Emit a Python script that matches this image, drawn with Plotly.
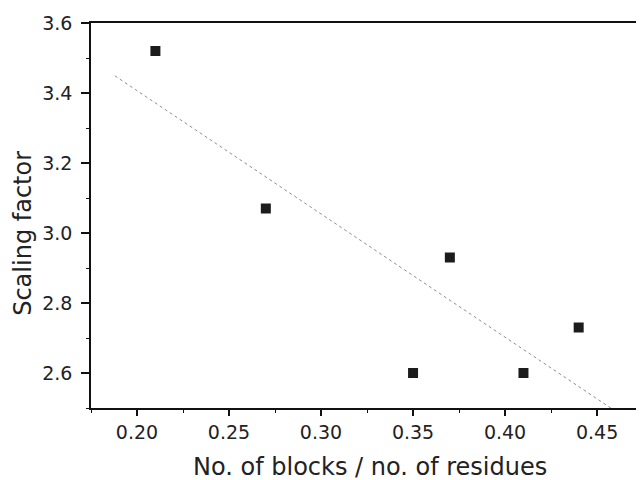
import plotly.graph_objects as go

# Data
x_vals = [0.21, 0.27, 0.35, 0.37, 0.41, 0.44]
y_vals = [3.52, 3.07, 2.60, 2.93, 2.60, 2.73]

# Linear fit line endpoints
fit_x = [0.188, 0.458]
fit_y = [3.449, 2.498]

x_ticks = [0.20, 0.25, 0.30, 0.35, 0.40, 0.45]
x_ticklabels = ["0.20", "0.25", "0.30", "0.35", "0.40", "0.45"]
y_ticks = [2.6, 2.8, 3.0, 3.2, 3.4, 3.6]
y_ticklabels = ["2.6", "2.8", "3.0", "3.2", "3.4", "3.6"]

x_title = "No. of blocks / no. of residues"
y_title = "Scaling factor"

FONT = "DejaVu Sans, Liberation Sans, Arial, sans-serif"
TXT = "#222222"

fig = go.Figure()
fig.add_trace(go.Scatter(
    x=fit_x, y=fit_y, mode="lines",
    line=dict(color="#8f8f8f", width=1, dash="dot"),
    showlegend=False, hoverinfo="skip",
))
fig.add_trace(go.Scatter(
    x=x_vals, y=y_vals, mode="markers",
    marker=dict(symbol="square", size=10, color="#1c1c1c", line=dict(width=0)),
    showlegend=False,
))

# The page body adds an 8px margin, so the figure is 8px smaller than the window
fig.update_layout(
    width=636, height=472,
    margin=dict(l=83, r=0, t=15, b=72),
    paper_bgcolor="white", plot_bgcolor="white",
    font=dict(family=FONT, color=TXT),
    xaxis=dict(
        range=[0.175, 0.4755],
        tickvals=x_ticks, ticktext=x_ticklabels,
        ticks="outside", ticklen=6, tickwidth=1.5, tickcolor="#111",
        showline=True, linecolor="#111", linewidth=1.5, mirror=True,
        showgrid=False, zeroline=False,
        tickfont=dict(size=19, family=FONT, color=TXT),
        minor=dict(ticks="outside", ticklen=3, tickwidth=1.2, tickcolor="#111", dtick=0.025, tick0=0.175),
    ),
    yaxis=dict(
        range=[2.5, 3.6],
        tickvals=y_ticks, ticktext=y_ticklabels,
        ticks="outside", ticklen=8, tickwidth=1.5, tickcolor="#111",
        showline=True, linecolor="#111", linewidth=1.5, mirror=False,
        showgrid=False, zeroline=False,
        ticklabelstandoff=5,
        tickfont=dict(size=19, family=FONT, color=TXT),
        minor=dict(ticks="outside", ticklen=3, tickwidth=1.2, tickcolor="#111", dtick=0.1, tick0=2.5),
    ),
    annotations=[
        dict(text=x_title, xref="paper", yref="paper", x=0.5045, y=-0.152,
             xanchor="center", yanchor="middle", showarrow=False,
             font=dict(size=24, family=FONT, color=TXT)),
        dict(text=y_title, xref="paper", yref="paper", x=-0.123, y=0.455,
             xanchor="center", yanchor="middle", showarrow=False, textangle=-90,
             font=dict(size=24, family=FONT, color=TXT)),
    ],
)

fig.write_html("out.html")
